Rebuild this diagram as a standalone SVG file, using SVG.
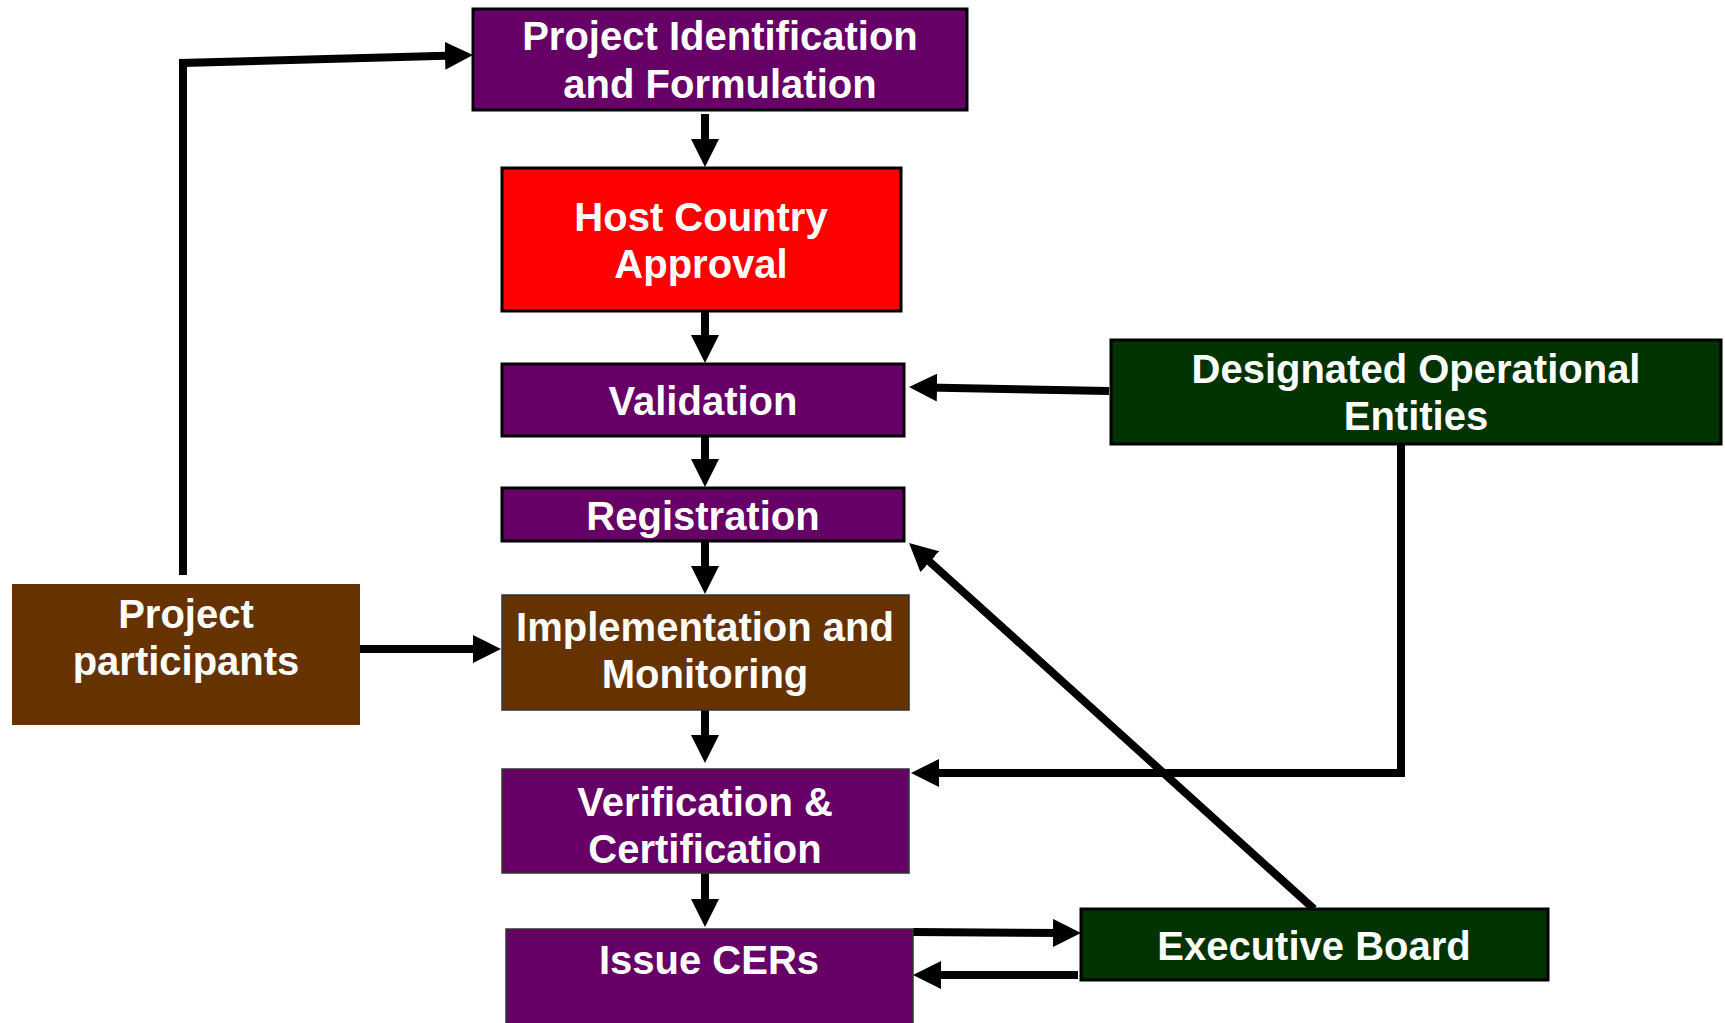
<svg xmlns="http://www.w3.org/2000/svg" width="1725" height="1023" viewBox="0 0 1725 1023">
<defs>
<style>
.lbl{font-family:"Liberation Sans",Arial,sans-serif;font-weight:bold;font-size:40px;fill:#fff;text-anchor:middle}
.purple{fill:#660066}
.red{fill:#ff0000}
.brown{fill:#663300}
.green{fill:#003300}
.bd{stroke:#000;stroke-width:3}
.thin{stroke:#333;stroke-width:1.5}
.conn{fill:none;stroke:#000;stroke-width:8;stroke-linejoin:miter}
</style>
<marker id="ah" markerUnits="userSpaceOnUse" markerWidth="28" markerHeight="28" refX="10" refY="14" orient="auto" viewBox="0 0 28 28">
<path d="M0,0 L28,14 L0,28 z" fill="#000"/>
</marker>
</defs>
<rect width="1725" height="1023" fill="#fff"/>
<g id="connectors">
<line class="conn" x1="705" y1="114" x2="705" y2="149" marker-end="url(#ah)"/>
<line class="conn" x1="705" y1="311" x2="705" y2="345" marker-end="url(#ah)"/>
<line class="conn" x1="705" y1="436" x2="705" y2="469" marker-end="url(#ah)"/>
<line class="conn" x1="705" y1="541" x2="705" y2="576" marker-end="url(#ah)"/>
<line class="conn" x1="705" y1="710" x2="705" y2="745" marker-end="url(#ah)"/>
<line class="conn" x1="705" y1="873" x2="705" y2="909" marker-end="url(#ah)"/>
<line class="conn" x1="1109" y1="391" x2="927" y2="387.4" marker-end="url(#ah)"/>
<path class="conn" d="M1401,436 V773 H929" marker-end="url(#ah)"/>
<path class="conn" d="M183,575 V63 L455,55.5" marker-end="url(#ah)"/>
<line class="conn" x1="360" y1="649" x2="483" y2="649" marker-end="url(#ah)"/>
<line class="conn" x1="1314" y1="909" x2="922.4" y2="555.1" marker-end="url(#ah)"/>
<line class="conn" x1="913" y1="932" x2="1063" y2="933" marker-end="url(#ah)"/>
<line class="conn" x1="1078" y1="975" x2="931" y2="975" marker-end="url(#ah)"/>
</g>
<g id="node-identification">
<rect class="purple bd" x="473" y="9" width="494" height="101"/>
<text class="lbl" x="720" y="50">Project Identification</text>
<text class="lbl" x="720" y="98">and Formulation</text>
</g>
<g id="node-host">
<rect class="red bd" x="502" y="168" width="399" height="143"/>
<text class="lbl" x="701" y="231">Host Country</text>
<text class="lbl" x="701" y="278">Approval</text>
</g>
<g id="node-validation">
<rect class="purple bd" x="502" y="364" width="402" height="72"/>
<text class="lbl" x="703" y="415">Validation</text>
</g>
<g id="node-registration">
<rect class="purple bd" x="502" y="488" width="402" height="53"/>
<text class="lbl" x="703" y="530">Registration</text>
</g>
<g id="node-implementation">
<rect class="brown thin" x="502" y="595" width="407" height="115"/>
<text class="lbl" x="705" y="641">Implementation and</text>
<text class="lbl" x="705" y="688">Monitoring</text>
</g>
<g id="node-verification">
<rect class="purple thin" x="502" y="769" width="407" height="104"/>
<text class="lbl" x="705" y="816">Verification &amp;</text>
<text class="lbl" x="705" y="863">Certification</text>
</g>
<g id="node-issue">
<rect class="purple thin" x="506" y="929" width="407" height="100"/>
<text class="lbl" x="709" y="974">Issue CERs</text>
</g>
<g id="node-participants">
<rect class="brown" x="12" y="584" width="348" height="141"/>
<text class="lbl" x="186" y="628">Project</text>
<text class="lbl" x="186" y="675">participants</text>
</g>
<g id="node-doe">
<rect class="green bd" x="1111" y="340" width="610" height="104"/>
<text class="lbl" x="1416" y="383">Designated Operational</text>
<text class="lbl" x="1416" y="430">Entities</text>
</g>
<g id="node-executive">
<rect class="green bd" x="1081" y="909" width="467" height="71"/>
<text class="lbl" x="1314" y="960">Executive Board</text>
</g>
</svg>
